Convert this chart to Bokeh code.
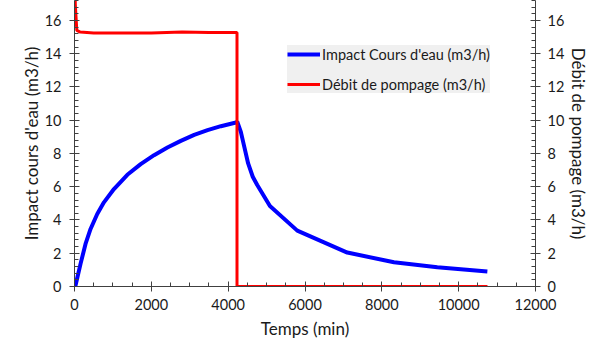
from bokeh.plotting import figure
from bokeh.models import Range1d, LinearAxis, FixedTicker, Legend, LegendItem
from bokeh.embed import file_html
from bokeh.resources import INLINE

# Impact on the watercourse (m3/h) over time (min)
impact_t = [0, 26, 157, 287, 418, 592, 766, 1027, 1375, 1723, 2071, 2419, 2767,
            3115, 3463, 3811, 4202, 4236, 4330, 4420, 4520, 4640, 4757, 5087,
            5799, 7101, 8316, 9444, 10747]
impact_v = [0.0, 0.06, 1.36, 2.56, 3.46, 4.36, 5.06, 5.86, 6.72, 7.36, 7.9, 8.36,
            8.76, 9.12, 9.4, 9.64, 9.86, 9.92, 9.3, 8.4, 7.4, 6.6, 6.1, 4.84,
            3.36, 2.04, 1.46, 1.16, 0.9]

# Pumping rate (m3/h) over time (min)
pump_t = [0, 20, 60, 150, 500, 1000, 2000, 2800, 3500, 4230, 4230, 10750]
pump_v = [25.0, 17.0, 15.4, 15.3, 15.25, 15.25, 15.25, 15.3, 15.28, 15.28, 0.0, 0.0]

x_ticks = [0, 2000, 4000, 6000, 8000, 10000, 12000]
y_ticks = [0, 2, 4, 6, 8, 10, 12, 14, 16]

FONT = "Lato"
AXIS_COL = "#404040"
TEXT_COL = "#1a1a1a"

p = figure(width=593, height=341, output_backend="svg", toolbar_location=None,
           x_range=Range1d(0, 12000), y_range=Range1d(0, 17.2),
           min_border_left=74, min_border_right=58, min_border_top=0,
           min_border_bottom=54)
p.outline_line_color = None
p.xgrid.visible = False
p.ygrid.visible = False
p.extra_y_ranges = {"pump": Range1d(0, 17.2)}

blue = p.line(impact_t, impact_v, line_color="#0000ff", line_width=4)
red = p.line(pump_t, pump_v, line_color="#ff0000", line_width=3, y_range_name="pump")

right_axis = LinearAxis(y_range_name="pump")
p.add_layout(right_axis, "right")


def style(ax, ticks, minor):
    ax.ticker = FixedTicker(ticks=ticks, minor_ticks=minor)
    ax.axis_line_color = AXIS_COL
    ax.major_tick_line_color = AXIS_COL
    ax.minor_tick_line_color = AXIS_COL
    ax.major_tick_in = 5
    ax.major_tick_out = 5
    ax.minor_tick_in = 4
    ax.minor_tick_out = 0
    ax.major_label_text_font = FONT
    ax.major_label_text_font_size = "14.5px"
    ax.major_label_text_color = TEXT_COL
    ax.axis_label_text_font = FONT
    ax.axis_label_text_font_size = "17px"
    ax.axis_label_text_font_style = "normal"
    ax.axis_label_text_color = TEXT_COL


minor_x = [v for v in range(0, 12001, 500)]
minor_y = [round(i * 0.4, 1) for i in range(0, 44)]

style(p.xaxis[0], x_ticks, minor_x)
style(p.yaxis[0], y_ticks, minor_y)
style(right_axis, y_ticks, minor_y)

p.xaxis[0].axis_label = "Temps (min)"
p.xaxis[0].major_label_standoff = 7
p.xaxis[0].axis_label_standoff = 5
p.yaxis[0].axis_label = "Impact cours d'eau (m3/h)"
p.yaxis[0].major_label_standoff = 8
p.yaxis[0].axis_label_standoff = 0
right_axis.axis_label = "Débit de pompage (m3/h)"
right_axis.major_label_standoff = 7
right_axis.axis_label_standoff = 1

legend = Legend(items=[LegendItem(label="Impact Cours d'eau (m3/h)", renderers=[blue]),
                       LegendItem(label="Débit de pompage (m3/h)", renderers=[red])],
                location=(213, 193))
legend.background_fill_color = "#f0f0f0"
legend.background_fill_alpha = 1.0
legend.border_line_color = None
legend.label_text_font = FONT
legend.label_text_font_size = "14.5px"
legend.label_text_color = TEXT_COL
legend.glyph_width = 33
legend.glyph_height = 18
legend.spacing = 12
legend.padding = 10
legend.margin = 0
legend.label_standoff = 2
p.add_layout(legend, "center")

open("out.html", "w").write(file_html(p, INLINE))
